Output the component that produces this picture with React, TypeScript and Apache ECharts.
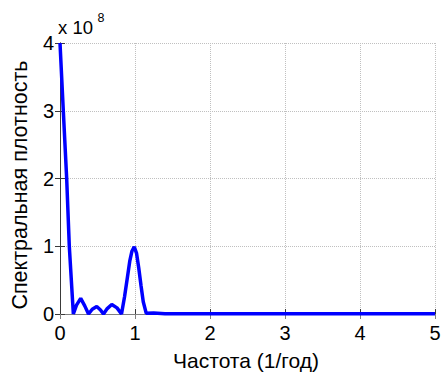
import React, { useEffect, useRef } from "react";
import * as echarts from "echarts";

const freq = [0, 0.044, 0.089, 0.124, 0.178, 0.22, 0.276, 0.33, 0.38, 0.43, 0.49, 0.54, 0.58, 0.63, 0.69, 0.76, 0.82, 0.86, 0.9, 0.93, 0.96, 0.99, 1.02, 1.05, 1.08, 1.11, 1.15, 1.25, 1.4, 2, 3, 4, 5];
const density = [4, 3, 2, 1, 0, 0.13, 0.23, 0.12, 0, 0.07, 0.11, 0.06, 0, 0.08, 0.14, 0.09, 0, 0.25, 0.55, 0.78, 0.93, 0.99, 0.9, 0.68, 0.42, 0.18, 0.01, 0.015, 0.005, 0.005, 0.003, 0.003, 0.003];
const xTicks = [0, 1, 2, 3, 4, 5];
const yTicks = [0, 1, 2, 3, 4];
const yTitle = "Спектральная плотность";
const xTitle = "Частота (1/год)";

const FONT = "Liberation Sans, Arial, sans-serif";

export default function App() {
  const ref = useRef<HTMLDivElement>(null);
  useEffect(() => {
    const chart = echarts.init(ref.current!, null, { renderer: "svg" });
    const axisLine = { show: true, lineStyle: { color: "#3a3a3a", width: 1 } };
    chart.setOption({
      animation: false,
      backgroundColor: "#ffffff",
      grid: { left: 60, right: 10, top: 43, bottom: 58 },
      xAxis: [
        {
          type: "value",
          min: xTicks[0],
          max: xTicks[xTicks.length - 1],
          interval: 1,
          axisLine,
          axisTick: { show: true, inside: true, length: 5, lineStyle: { color: "#3a3a3a" } },
          axisLabel: { color: "#000", fontSize: 20, fontFamily: FONT, margin: 9 },
          splitLine: { show: true, lineStyle: { type: "dotted", color: "#c0c0c0" } },
        },
        {
          type: "value",
          position: "top",
          min: 0,
          max: 5,
          interval: 1,
          axisLine: { show: true, lineStyle: { color: "#808080", width: 1 } },
          axisTick: { show: true, inside: true, length: 5, lineStyle: { color: "#808080" } },
          axisLabel: { show: false },
          splitLine: { show: false },
        },
      ],
      yAxis: [
        {
          type: "value",
          min: yTicks[0],
          max: yTicks[yTicks.length - 1],
          interval: 1,
          axisLine,
          axisTick: { show: true, inside: true, length: 5, lineStyle: { color: "#3a3a3a" } },
          axisLabel: { color: "#000", fontSize: 20, fontFamily: FONT, margin: 6 },
          splitLine: { show: true, lineStyle: { type: "dotted", color: "#c0c0c0" } },
        },
        {
          type: "value",
          position: "right",
          min: 0,
          max: 4,
          interval: 1,
          axisLine: { show: true, lineStyle: { color: "#3a3a3a", width: 1 } },
          axisTick: { show: true, inside: true, length: 5, lineStyle: { color: "#3a3a3a" } },
          axisLabel: { show: false },
          splitLine: { show: false },
        },
      ],
      graphic: [
        {
          type: "text",
          x: 20,
          y: 185,
          rotation: Math.PI / 2,
          style: {
            text: yTitle,
            fontSize: 21.5,
            fontFamily: FONT,
            fill: "#000",
            align: "center",
            verticalAlign: "middle",
          },
        },
        {
          type: "text",
          x: 246,
          y: 360,
          style: {
            text: xTitle,
            fontSize: 21,
            fontFamily: FONT,
            fill: "#000",
            align: "center",
            verticalAlign: "middle",
          },
        },
        {
          type: "text",
          x: 58,
          y: 27,
          style: { text: "x 10", fontSize: 18.5, fontFamily: FONT, fill: "#000", align: "left", verticalAlign: "middle" },
        },
        {
          type: "text",
          x: 97.5,
          y: 17.5,
          style: { text: "8", fontSize: 12.5, fontFamily: FONT, fill: "#000", align: "left", verticalAlign: "middle" },
        },
      ],
      series: [
        {
          type: "line",
          data: freq.map((f, i) => [f, density[i]]),
          showSymbol: false,
          lineStyle: { color: "#0000ff", width: 3.5 },
          clip: false,
        },
      ],
    });
    return () => chart.dispose();
  }, []);
  return <div ref={ref} style={{ position: "absolute", left: 0, top: 0, width: 445, height: 372 }} />;
}
